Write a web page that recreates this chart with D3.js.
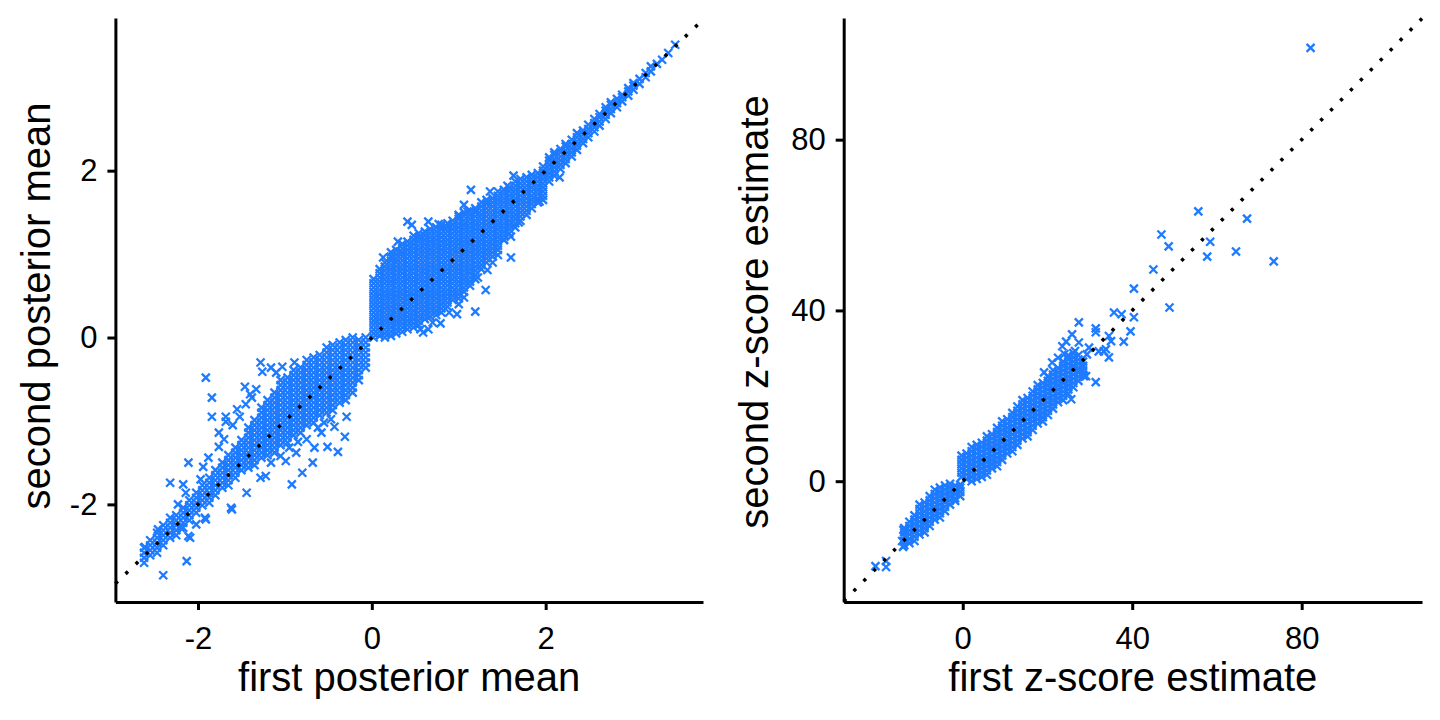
<!DOCTYPE html>
<html><head><meta charset="utf-8">
<script src="https://cdn.jsdelivr.net/npm/d3@7"></script>
<style>
html,body{margin:0;padding:0;background:#fff;}
svg{display:block;font-family:"Liberation Sans",Arial,Helvetica,sans-serif;}
</style></head><body>
<svg id="chart" width="1440" height="720"></svg>
<script>
// ---------- tick labels ----------
const postTicks = [-2, 0, 2];
const zTicks = [0, 40, 80];

// ---------- left panel: posterior means (first, second) ----------
// dense cloud, written as columns: [first, [second values]]
const postPositiveCols = [
 [0.02,[0.00,0.05,0.10,0.15,0.20,0.25,0.30,0.35,0.40,0.45,0.50,0.55,0.60,0.65,0.70]],
 [0.09,[0.02,0.07,0.12,0.17,0.22,0.27,0.32,0.37,0.42,0.47,0.52,0.57,0.62,0.67,0.72,0.77,0.82]],
 [0.15,[0.00,0.05,0.10,0.15,0.20,0.25,0.30,0.35,0.40,0.45,0.50,0.55,0.60,0.65,0.70,0.75,0.80,0.85,0.90]],
 [0.22,[0.02,0.07,0.12,0.17,0.22,0.27,0.32,0.37,0.42,0.47,0.52,0.57,0.62,0.67,0.72,0.77,0.82,0.87,0.92,0.97,1.02]],
 [0.28,[0.05,0.10,0.15,0.20,0.25,0.30,0.35,0.40,0.45,0.50,0.55,0.60,0.65,0.70,0.75,0.80,0.85,0.90,0.95,1.00,1.05]],
 [0.35,[0.07,0.12,0.17,0.22,0.27,0.32,0.37,0.42,0.47,0.52,0.57,0.62,0.67,0.72,0.77,0.82,0.87,0.92,0.97,1.02,1.07,1.12]],
 [0.41,[0.10,0.15,0.20,0.25,0.30,0.35,0.40,0.45,0.50,0.55,0.60,0.65,0.70,0.75,0.80,0.85,0.90,0.95,1.00,1.05,1.10,1.15]],
 [0.48,[0.12,0.17,0.22,0.27,0.32,0.37,0.42,0.47,0.52,0.57,0.62,0.67,0.72,0.77,0.82,0.87,0.92,0.97,1.02,1.07,1.12,1.17,1.22]],
 [0.54,[0.15,0.20,0.25,0.30,0.35,0.40,0.45,0.50,0.55,0.60,0.65,0.70,0.75,0.80,0.85,0.90,0.95,1.00,1.05,1.10,1.15,1.20,1.25]],
 [0.61,[0.22,0.27,0.32,0.37,0.42,0.47,0.52,0.57,0.62,0.67,0.72,0.77,0.82,0.87,0.92,0.97,1.02,1.07,1.12,1.17,1.22,1.27]],
 [0.67,[0.25,0.30,0.35,0.40,0.45,0.50,0.55,0.60,0.65,0.70,0.75,0.80,0.85,0.90,0.95,1.00,1.05,1.10,1.15,1.20,1.25,1.30]],
 [0.74,[0.27,0.32,0.37,0.42,0.47,0.52,0.57,0.62,0.67,0.72,0.77,0.82,0.87,0.92,0.97,1.02,1.07,1.12,1.17,1.22,1.27,1.32]],
 [0.80,[0.30,0.35,0.40,0.45,0.50,0.55,0.60,0.65,0.70,0.75,0.80,0.85,0.90,0.95,1.00,1.05,1.10,1.15,1.20,1.25,1.30,1.35]],
 [0.87,[0.37,0.42,0.47,0.52,0.57,0.62,0.67,0.72,0.77,0.82,0.87,0.92,0.97,1.02,1.07,1.12,1.17,1.22,1.27,1.32,1.37]],
 [0.93,[0.45,0.50,0.55,0.60,0.65,0.70,0.75,0.80,0.85,0.90,0.95,1.00,1.05,1.10,1.15,1.20,1.25,1.30,1.35,1.40]],
 [1.00,[0.47,0.52,0.57,0.62,0.67,0.72,0.77,0.82,0.87,0.92,0.97,1.02,1.07,1.12,1.17,1.22,1.27,1.32,1.37,1.42,1.47]],
 [1.06,[0.55,0.60,0.65,0.70,0.75,0.80,0.85,0.90,0.95,1.00,1.05,1.10,1.15,1.20,1.25,1.30,1.35,1.40,1.45,1.50]],
 [1.13,[0.62,0.67,0.72,0.77,0.82,0.87,0.92,0.97,1.02,1.07,1.12,1.17,1.22,1.27,1.32,1.37,1.42,1.47,1.52]],
 [1.19,[0.70,0.75,0.80,0.85,0.90,0.95,1.00,1.05,1.10,1.15,1.20,1.25,1.30,1.35,1.40,1.45,1.50,1.55]],
 [1.26,[0.82,0.87,0.92,0.97,1.02,1.07,1.12,1.17,1.22,1.27,1.32,1.37,1.42,1.47,1.52,1.57,1.62]],
 [1.32,[0.90,0.95,1.00,1.05,1.10,1.15,1.20,1.25,1.30,1.35,1.40,1.45,1.50,1.55,1.60,1.65]],
 [1.39,[0.97,1.02,1.07,1.12,1.17,1.22,1.27,1.32,1.37,1.42,1.47,1.52,1.57,1.62,1.67]],
 [1.45,[1.05,1.10,1.15,1.20,1.25,1.30,1.35,1.40,1.45,1.50,1.55,1.60,1.65,1.70,1.75]],
 [1.52,[1.17,1.22,1.27,1.32,1.37,1.42,1.47,1.52,1.57,1.62,1.67,1.72,1.77]],
 [1.58,[1.25,1.30,1.35,1.40,1.45,1.50,1.55,1.60,1.65,1.70,1.75,1.80]],
 [1.65,[1.32,1.37,1.42,1.47,1.52,1.57,1.62,1.67,1.72,1.77,1.82,1.87]],
 [1.71,[1.40,1.45,1.50,1.55,1.60,1.65,1.70,1.75,1.80,1.85,1.90]],
 [1.78,[1.47,1.52,1.57,1.62,1.67,1.72,1.77,1.82,1.87,1.92]],
 [1.84,[1.55,1.60,1.65,1.70,1.75,1.80,1.85,1.90,1.95]],
 [1.91,[1.62,1.67,1.72,1.77,1.82,1.87,1.92,1.97]],
 [1.97,[1.65,1.70,1.75,1.80,1.85,1.90,1.95,2.00,2.05]]
];
const postUpperCols = [
 [2.04,[1.87,1.92,1.97,2.02,2.07,2.12,2.16]],
 [2.10,[1.94,1.99,2.04,2.09,2.14,2.19,2.22]],
 [2.17,[2.02,2.07,2.12,2.17,2.22,2.26]],
 [2.23,[2.09,2.14,2.19,2.24,2.29,2.32]],
 [2.30,[2.17,2.22,2.27,2.32,2.37]],
 [2.36,[2.25,2.30,2.35,2.40,2.45]],
 [2.43,[2.33,2.38,2.43,2.48]],
 [2.49,[2.40,2.45,2.50,2.55]],
 [2.56,[2.47,2.52,2.57,2.62]],
 [2.62,[2.54,2.59,2.64,2.68]],
 [2.69,[2.62,2.67,2.72,2.76]],
 [2.75,[2.69,2.74,2.79,2.82]],
 [2.82,[2.76,2.81,2.86]],
 [2.88,[2.83,2.88,2.91]],
 [2.95,[2.90,2.95,2.99]],
 [3.01,[2.97,3.02,3.05]],
 [3.08,[3.04,3.10]],
 [3.15,[3.12,3.17]],
 [3.21,[3.19,3.25]],
 [3.28,[3.28]],
 [3.34,[3.33]],
 [3.41,[3.41]],
 [3.49,[3.51]]
];
const postNegativeCols = [
 [-2.62,[-2.70,-2.64,-2.58,-2.52]],
 [-2.55,[-2.61,-2.55,-2.49,-2.43]],
 [-2.47,[-2.58,-2.52,-2.46,-2.40,-2.34]],
 [-2.40,[-2.49,-2.43,-2.37,-2.31,-2.25]],
 [-2.32,[-2.40,-2.34,-2.28,-2.22,-2.16]],
 [-2.25,[-2.37,-2.31,-2.25,-2.19,-2.13]],
 [-2.17,[-2.28,-2.22,-2.16,-2.10,-2.04]],
 [-2.10,[-2.19,-2.13,-2.07,-2.01,-1.95]],
 [-2.02,[-2.10,-2.04,-1.98,-1.92,-1.86]],
 [-1.95,[-2.01,-1.95,-1.89,-1.83,-1.77]],
 [-1.87,[-1.98,-1.92,-1.86,-1.80,-1.74,-1.68]],
 [-1.80,[-1.89,-1.83,-1.77,-1.71,-1.65,-1.59]],
 [-1.72,[-1.80,-1.74,-1.68,-1.62,-1.56,-1.50]],
 [-1.65,[-1.77,-1.71,-1.65,-1.59,-1.53,-1.47,-1.41]],
 [-1.57,[-1.68,-1.62,-1.56,-1.50,-1.44,-1.38,-1.32]],
 [-1.50,[-1.59,-1.53,-1.47,-1.41,-1.35,-1.29,-1.23]],
 [-1.42,[-1.56,-1.50,-1.44,-1.38,-1.32,-1.26,-1.20,-1.14,-1.08]],
 [-1.35,[-1.53,-1.47,-1.41,-1.35,-1.29,-1.23,-1.17,-1.11,-1.05,-0.99]],
 [-1.27,[-1.44,-1.38,-1.32,-1.26,-1.20,-1.14,-1.08,-1.02,-0.96,-0.90,-0.84]],
 [-1.20,[-1.41,-1.35,-1.29,-1.23,-1.17,-1.11,-1.05,-0.99,-0.93,-0.87,-0.81,-0.75]],
 [-1.12,[-1.38,-1.32,-1.26,-1.20,-1.14,-1.08,-1.02,-0.96,-0.90,-0.84,-0.78,-0.72,-0.66]],
 [-1.05,[-1.29,-1.23,-1.17,-1.11,-1.05,-0.99,-0.93,-0.87,-0.81,-0.75,-0.69,-0.63,-0.57,-0.51]],
 [-0.97,[-1.26,-1.20,-1.14,-1.08,-1.02,-0.96,-0.90,-0.84,-0.78,-0.72,-0.66,-0.60,-0.54,-0.48]],
 [-0.90,[-1.17,-1.11,-1.05,-0.99,-0.93,-0.87,-0.81,-0.75,-0.69,-0.63,-0.57,-0.51,-0.45,-0.39]],
 [-0.82,[-1.14,-1.08,-1.02,-0.96,-0.90,-0.84,-0.78,-0.72,-0.66,-0.60,-0.54,-0.48,-0.42,-0.36]],
 [-0.75,[-1.05,-0.99,-0.93,-0.87,-0.81,-0.75,-0.69,-0.63,-0.57,-0.51,-0.45,-0.39,-0.33,-0.27]],
 [-0.67,[-1.02,-0.96,-0.90,-0.84,-0.78,-0.72,-0.66,-0.60,-0.54,-0.48,-0.42,-0.36,-0.30,-0.24]],
 [-0.60,[-0.93,-0.87,-0.81,-0.75,-0.69,-0.63,-0.57,-0.51,-0.45,-0.39,-0.33,-0.27,-0.21]],
 [-0.52,[-0.90,-0.84,-0.78,-0.72,-0.66,-0.60,-0.54,-0.48,-0.42,-0.36,-0.30,-0.24,-0.18,-0.12]],
 [-0.45,[-0.87,-0.81,-0.75,-0.69,-0.63,-0.57,-0.51,-0.45,-0.39,-0.33,-0.27,-0.21,-0.15,-0.09]],
 [-0.37,[-0.78,-0.72,-0.66,-0.60,-0.54,-0.48,-0.42,-0.36,-0.30,-0.24,-0.18,-0.12,-0.06]],
 [-0.30,[-0.75,-0.69,-0.63,-0.57,-0.51,-0.45,-0.39,-0.33,-0.27,-0.21,-0.15,-0.09,-0.03]],
 [-0.22,[-0.66,-0.60,-0.54,-0.48,-0.42,-0.36,-0.30,-0.24,-0.18,-0.12,-0.06,0.00]],
 [-0.15,[-0.51,-0.45,-0.39,-0.33,-0.27,-0.21,-0.15,-0.09,-0.03]],
 [-0.07,[-0.36,-0.30,-0.24,-0.18,-0.12,-0.06,0.00]]
];
// isolated points: [first, second]
const postScatter = [
 [0.46,1.35],[0.65,1.39],[0.77,1.36],[0.85,1.33],[1.06,1.59],[1.14,1.77],[1.36,1.75],[1.56,1.82],
 [1.63,1.94],[0.24,0.96],[0.32,1.03],[0.56,1.21],[1.00,1.45],[1.10,1.51],[1.20,1.53],[1.33,1.62],
 [0.59,0.06],[0.65,0.10],[0.79,0.17],[0.98,0.28],[1.19,0.31],[1.31,0.57],[1.33,0.81],[1.45,0.99],
 [1.60,0.96],[1.52,1.17],[1.69,1.38],[1.93,1.63],[2.16,1.92],[1.06,0.48],[1.00,0.40],[0.56,0.10],
 [1.22,0.72],[1.39,0.90],[1.60,1.21],[0.41,1.39],[0.13,0.96],[0.30,1.15],[0.70,0.18],[0.89,0.30],
 [-1.91,-0.48],[-1.84,-0.72],[-1.84,-0.95],[-1.68,-0.95],[-1.46,-0.59],[-1.28,-0.30],[-1.16,-0.36],
 [-1.03,-0.35],[-0.89,-0.30],[-1.55,-0.86],[-1.76,-1.31],[-2.11,-1.50],[-1.94,-1.55],[-2.32,-1.74],
 [-2.17,-1.76],[-2.14,-1.86],[-1.97,-1.70],[-1.88,-1.44],[-2.23,-2.00],[-2.46,-2.30],[-2.61,-2.51],
 [-2.40,-2.85],[-2.13,-2.68],[-2.09,-2.40],[-2.02,-2.24],[-1.92,-2.16],[-1.62,-2.04],[-1.44,-1.86],
 [-1.28,-1.68],[-0.92,-1.76],[-0.80,-1.62],[-0.68,-1.50],[-0.99,-1.48],[-1.16,-1.50],[-0.66,-1.32],
 [-0.51,-1.31],[-0.39,-1.37],[-0.31,-1.19],[-0.43,-1.07],[-0.58,-1.14],[-0.29,-0.95],[-0.75,-1.22],
 [-0.87,-1.38],[-1.26,-0.41],[-1.10,-0.42],[-1.38,-0.72],[-1.68,-1.01],[-1.76,-1.14],[-1.22,-1.66],
 [-1.61,-2.06],[-1.91,-2.18],[-2.11,-2.38],[-2.20,-2.28],[-1.45,-0.80],[-1.52,-0.95],[-1.33,-0.62],
 [-1.40,-0.68],[-1.60,-1.05],[-1.70,-1.22],[-0.95,-1.32],[-0.85,-1.25],[-0.62,-1.08],[-0.55,-1.02],
 [-0.47,-0.98],[-1.05,-1.42]
];

// ---------- right panel: z-score estimates (first, second) ----------
const zNegativeCols = [
 [-13.8,[-15,-14,-13,-12,-11]],
 [-12.6,[-14.5,-13.5,-12.5,-11.5,-10.5,-9.5]],
 [-11.4,[-14,-13,-12,-11,-10,-9,-8]],
 [-10.2,[-12.5,-11.5,-10.5,-9.5,-8.5,-7.5,-6.5,-5.5]],
 [-9.0,[-12,-11,-10,-9,-8,-7,-6,-5]],
 [-7.8,[-10.5,-9.5,-8.5,-7.5,-6.5,-5.5,-4.5,-3.5]],
 [-6.6,[-9,-8,-7,-6,-5,-4,-3,-2]],
 [-5.4,[-8.5,-7.5,-6.5,-5.5,-4.5,-3.5,-2.5,-1.5]],
 [-4.2,[-7,-6,-5,-4,-3,-2,-1]],
 [-3.0,[-5.5,-4.5,-3.5,-2.5,-1.5,-0.6]],
 [-1.8,[-4.6,-4,-3,-2,-1]],
 [-0.6,[-3.5,-2.5,-1.5,-0.8]]
];
const zPositiveCols = [
 [-0.3,[1,2,3,4,5,6]],
 [0.9,[0.5,1.5,2.5,3.5,4.5,5.5,6.5]],
 [2.1,[0,1,2,3,4,5,6,7,8]],
 [3.3,[0.5,1.5,2.5,3.5,4.5,5.5,6.5,7.5,8.5]],
 [4.5,[1,2,3,4,5,6,7,8,9]],
 [5.7,[1.5,2.5,3.5,4.5,5.5,6.5,7.5,8.5,9.5,10.5]],
 [6.9,[3,4,5,6,7,8,9,10,11]],
 [8.1,[3.5,4.5,5.5,6.5,7.5,8.5,9.5,10.5,11.5,12.5]],
 [9.3,[5,6,7,8,9,10,11,12,13,14]],
 [10.5,[6.5,7.5,8.5,9.5,10.5,11.5,12.5,13.5,14.5]],
 [11.7,[7,8,9,10,11,12,13,14,15,16]],
 [12.9,[8.5,9.5,10.5,11.5,12.5,13.5,14.5,15.5,16.5,17.5]],
 [14.1,[10,11,12,13,14,15,16,17,18,19]],
 [15.3,[10.5,11.5,12.5,13.5,14.5,15.5,16.5,17.5,18.5,19.5]],
 [16.5,[12,13,14,15,16,17,18,19,20,21]],
 [17.7,[13.5,14.5,15.5,16.5,17.5,18.5,19.5,20.5,21.5,22.5]],
 [18.9,[14,15,16,17,18,19,20,21,22,23]],
 [20.1,[15.5,16.5,17.5,18.5,19.5,20.5,21.5,22.5,23.5,24.5]],
 [21.3,[17,18,19,20,21,22,23,24,25,26]],
 [22.5,[18.5,19.5,20.5,21.5,22.5,23.5,24.5,25.5,26.5]],
 [23.7,[19,20,21,22,23,24,25,26,27,28]],
 [24.9,[20.5,21.5,22.5,23.5,24.5,25.5,26.5,27.5,28.5,29.5]],
 [26.1,[22,23,24,25,26,27,28,29,30]],
 [27.3,[23.5,24.5,25.5,26.5,27.5,28.5,29.5]],
 [28.4,[25,26,27,28]]
];
const zScatter = [
 [-20.6,-19.9],[-18.1,-18.7],[-18.1,-20.1],[-14.1,-15.4],[-14.3,-14.0],[-13.6,-12.9],[-14.0,-11.4],
 [19.2,25.5],[21.1,27.8],[23.5,31.6],[24.4,32.7],[25.8,34.4],[27.4,37.2],[27.4,32.5],[29.3,29.7],
 [29.8,31.3],[31.4,34.9],[31.4,35.8],[31.4,23.2],[25.6,19.2],[32.1,30.4],[33.3,30.4],[33.8,30.9],
 [34.5,29.0],[34.5,34.0],[35.0,32.8],[35.7,39.5],[37.5,39.1],[38.0,32.7],[39.6,35.1],[40.4,38.4],
 [40.4,45.1],[48.8,40.7],[45.0,49.6],[46.9,57.8],[48.6,55.0],[55.6,63.2],[58.4,56.1],[57.7,52.6],
 [64.5,53.8],[67.1,61.5],[73.4,51.5],[82.1,101.5],[28.2,26.9],[29.1,24.6],[28.6,24.6],[26.5,30.5],
 [22.5,28.9],[24.0,29.8]
];

// ---------- drawing ----------
const svg = d3.select("#chart");
const blue = "#1e7bff";
const font = '"Liberation Sans", Arial, Helvetica, sans-serif';

function expand(cols){
  const out = [];
  cols.forEach(([x, ys]) => ys.forEach(y => out.push([x, y])));
  return out;
}

function panel(cfg){
  const x = d3.scaleLinear().domain(cfg.xDomain).range([cfg.left, cfg.right]);
  const y = d3.scaleLinear().domain(cfg.yDomain).range([cfg.bottom, cfg.top]);
  const g = svg.append("g");
  const pts = cfg.cols.flatMap(expand).concat(cfg.scatter);

  g.append("g").selectAll("path").data(pts).join("path")
    .attr("d", "M-4,-4L4,4M-4,4L4,-4")
    .attr("transform", d => `translate(${x(d[0]).toFixed(2)},${y(d[1]).toFixed(2)})`)
    .attr("fill", "none").attr("stroke", blue).attr("stroke-width", 2.3);

  const lo = Math.max(cfg.xDomain[0], cfg.yDomain[0]);
  const hi = Math.min(cfg.xDomain[1], cfg.yDomain[1]);
  g.append("line")
    .attr("x1", x(lo)).attr("y1", y(lo)).attr("x2", x(hi)).attr("y2", y(hi))
    .attr("stroke", "#000").attr("stroke-width", 3.5)
    .attr("stroke-dasharray", "3.3 10.8");

  const fmt = d => String(d);
  const xa = g.append("g").attr("transform", `translate(0,${cfg.bottom})`)
    .call(d3.axisBottom(x).tickValues(cfg.xTicks).tickFormat(fmt)
      .tickSize(8).tickSizeOuter(0).tickPadding(17));
  const ya = g.append("g").attr("transform", `translate(${cfg.left},0)`)
    .call(d3.axisLeft(y).tickValues(cfg.yTicks).tickFormat(fmt)
      .tickSize(8).tickSizeOuter(0).tickPadding(10));
  [xa, ya].forEach(a => {
    a.attr("font-size", 31).attr("font-family", font).attr("color", "#000");
    a.select(".domain").attr("stroke-width", 3);
    a.selectAll(".tick line").attr("stroke-width", 3);
  });

  g.append("text").attr("x", (cfg.left + cfg.right) / 2).attr("y", 691)
    .attr("text-anchor", "middle").attr("font-size", 40).attr("fill", "#000")
    .text(cfg.xTitle);
  g.append("text")
    .attr("transform", `translate(${cfg.yTitleX},${cfg.yTitleY}) rotate(-90)`)
    .attr("text-anchor", "middle").attr("font-size", 40).attr("fill", "#000")
    .text(cfg.yTitle);
}

panel({
  xDomain: [-2.95, 3.81], yDomain: [-3.17, 3.83],
  left: 115.4, right: 703, top: 18, bottom: 602,
  cols: [postPositiveCols, postUpperCols, postNegativeCols], scatter: postScatter,
  xTicks: postTicks, yTicks: postTicks,
  xTitle: "first posterior mean", yTitle: "second posterior mean",
  yTitleX: 50, yTitleY: 306
});
panel({
  xDomain: [-28.1, 108.4], yDomain: [-28.3, 108.5],
  left: 843.7, right: 1422, top: 18, bottom: 602,
  cols: [zNegativeCols, zPositiveCols], scatter: zScatter,
  xTicks: zTicks, yTicks: zTicks,
  xTitle: "first z-score estimate", yTitle: "second z-score estimate",
  yTitleX: 768, yTitleY: 312
});
</script>
</body></html>
